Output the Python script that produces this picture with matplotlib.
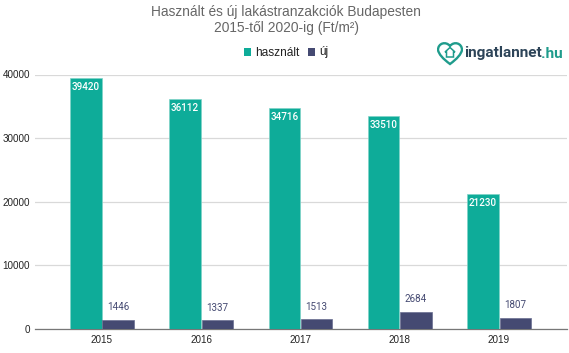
import matplotlib
matplotlib.use('Agg')
import matplotlib.pyplot as plt
from matplotlib.patches import PathPatch, Polygon
from matplotlib.path import Path
import numpy as np

years = ['2015', '2016', '2017', '2018', '2019']
hasznalt = [39420, 36112, 34716, 33510, 21230]
uj = [1446, 1337, 1513, 2684, 1807]
yticks = [0, 10000, 20000, 30000, 40000]

green = '#0eac99'
navy = '#454a72'
W, H = 569, 353

plt.rcParams['font.family'] = ['Liberation Sans', 'DejaVu Sans']

fig = plt.figure(figsize=(W / 100, H / 100), dpi=100)
ax = fig.add_axes([35 / W, 1 - 329 / H, 532 / W, (329 - 74.5) / H])

x = np.arange(len(years))
bw = 0.315
ax.bar(x - bw / 2 - 0.005, hasznalt, bw, color=green, edgecolor='#7fd3c8', linewidth=0.5, zorder=3)
ax.bar(x + bw / 2 + 0.005, uj, bw, color=navy, edgecolor='#6a6e90', linewidth=0.5, zorder=3)

for i, v in enumerate(hasznalt):
    ax.text(i - bw / 2 - 0.005, v - 600, str(v), ha='center', va='top', color='white',
            fontsize=7.1, family='Roboto', fontweight='medium', zorder=4)
for i, v in enumerate(uj):
    ax.text(i + bw / 2 + 0.005, v + 2000, str(v), ha='center', va='center', color=navy,
            fontsize=7.1, family='Roboto', zorder=4)

ax.set_xlim(-0.675, 4.685)
ax.set_ylim(0, 40000)
ax.set_xticks(x)
ax.set_xticklabels(years)
ax.set_yticks(yticks)
ax.tick_params(axis='both', length=0, labelsize=7.1, labelcolor='#222222')
ax.tick_params(axis='x', pad=4.3)
ax.tick_params(axis='y', pad=3.5)
ax.grid(axis='y', color='#d9d9d9', linewidth=0.9, zorder=0)
ax.set_axisbelow(True)
for s in ['top', 'right', 'left']:
    ax.spines[s].set_visible(False)
ax.spines['bottom'].set_color('#777777')
ax.spines['bottom'].set_linewidth(0.9)

# title
fig.text(286 / W, 1 - 12 / H, 'Használt és új lakástranzakciók Budapesten', ha='center', va='center',
         fontsize=9.95, color='#666666')
fig.text(286 / W, 1 - 28 / H, '2015-től 2020-ig (Ft/m²)', ha='center', va='center',
         fontsize=9.95, color='#666666')

# legend
fig.patches.append(plt.Rectangle((244 / W, 1 - 55.5 / H), 7 / W, 7 / H, transform=fig.transFigure,
                                 facecolor=green, edgecolor='none'))
fig.text(255 / W, 1 - 52.5 / H, 'használt', ha='left', va='center', fontsize=8.6, color='#222222')
fig.patches.append(plt.Rectangle((308 / W, 1 - 55.5 / H), 7 / W, 7 / H, transform=fig.transFigure,
                                 facecolor=navy, edgecolor='none'))
fig.text(319 / W, 1 - 52.5 / H, 'új', ha='left', va='center', fontsize=8.6, color='#222222')

# logo
logo = fig.add_axes([437 / W, 1 - 66 / H, 26 / W, 26 / H])
logo.set_xlim(0, 26)
logo.set_ylim(26, 0)
logo.axis('off')
heart = Path([(13, 24), (2, 16), (1, 10), (1, 3), (9, 1), (13, 6), (17, 1), (25, 3), (25, 10), (24, 16), (13, 24), (13, 24)],
             [Path.MOVETO, Path.CURVE3, Path.CURVE3, Path.CURVE4, Path.CURVE4, Path.CURVE4, Path.CURVE4, Path.CURVE4, Path.CURVE4, Path.CURVE3, Path.CURVE3, Path.CLOSEPOLY])
logo.add_patch(PathPatch(heart, facecolor='none', edgecolor='#1f9c8c', linewidth=1.7))
logo.add_patch(Polygon([(8, 12), (13, 7.5), (18, 12), (16.5, 12), (16.5, 17), (9.5, 17), (9.5, 12)],
                       closed=True, facecolor='none', edgecolor='#1f9c8c', linewidth=1.1))
fig.text(464 / W, 1 - 53.5 / H, 'ingatlannet', ha='left', va='center', fontsize=11.1,
         family='Roboto', fontweight='bold', color='#2d4458')
fig.text(540.5 / W, 1 - 53.5 / H, '.hu', ha='left', va='center', fontsize=11.1,
         family='Roboto', fontweight='bold', color='#1f9c8c')

fig.savefig('out.png', dpi=100)
